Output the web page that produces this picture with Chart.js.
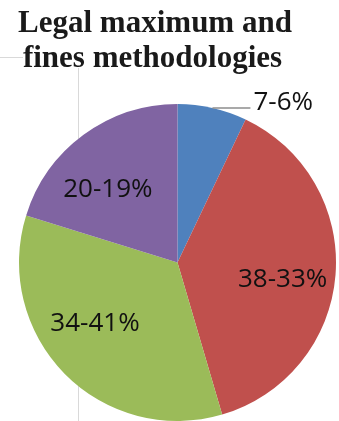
<!DOCTYPE html>
<html>
<head>
<meta charset="utf-8">
<title>Legal maximum and fines methodologies</title>
<script src="https://cdn.jsdelivr.net/npm/chart.js@4/dist/chart.umd.min.js"></script>
<style>
  html, body { margin: 0; padding: 0; background: #ffffff; }
  #wrap { width: 339px; height: 421px; position: relative; }
  canvas { display: block; }
</style>
</head>
<body>
<div id="wrap"><canvas id="pie" width="339" height="421"></canvas></div>
<script>
// Slice data
const categories = ['Group A', 'Group B', 'Group C', 'Group D'];
const shares = [7, 38, 34, 20];               // first figure of each label, in %
const secondShares = [6, 33, 41, 19];         // second figure of each label, in %
const sliceLabels = shares.map((v, i) => v + '-' + secondShares[i] + '%');
const titleLines = ['Legal maximum and', 'fines methodologies'];

const sliceColors = ['#4F81BD', '#C0504D', '#9BBB59', '#8064A2'];

// Where each slice label sits: inside labels use an angle shift (deg) from the
// slice middle and a fraction of the radius; the small slice gets a leader line.
const labelPlacement = [
  { outside: true, leader: 38 },
  { shift: 3.5, frac: 0.67 },
  { shift: 9, frac: 0.64 },
  { shift: -6.6, frac: 0.645 }
];

const LABEL_FONT = '26px "Open Sans", "DejaVu Sans", sans-serif';
const CAP = 0.714; // cap-height ratio of the label font

// Thin frame lines of the surrounding text box, drawn behind the pie
const framePlugin = {
  id: 'frame',
  beforeDatasetsDraw(chart) {
    const ctx = chart.ctx;
    ctx.save();
    ctx.strokeStyle = '#d9d9d9';
    ctx.lineWidth = 1;
    ctx.beginPath();
    ctx.moveTo(0, 57.5); ctx.lineTo(23, 57.5);
    ctx.moveTo(78.5, 68); ctx.lineTo(78.5, chart.height);
    ctx.stroke();
    ctx.restore();
  }
};

// Two-line serif heading
const headingPlugin = {
  id: 'heading',
  afterDraw(chart) {
    const ctx = chart.ctx;
    ctx.save();
    ctx.fillStyle = '#1a1a1a';
    ctx.font = 'bold 31px "Liberation Serif", "Times New Roman", serif';
    ctx.textAlign = 'center';
    ctx.textBaseline = 'alphabetic';
    ctx.fillText(titleLines[0], 155, 32);
    ctx.fillText(titleLines[1], 152.5, 67);
    ctx.restore();
  }
};

// Value labels on / beside the slices
const sliceLabelPlugin = {
  id: 'sliceLabels',
  afterDatasetsDraw(chart) {
    const ctx = chart.ctx;
    const meta = chart.getDatasetMeta(0);
    ctx.save();
    ctx.font = LABEL_FONT;
    ctx.fillStyle = '#111111';
    const capH = 26 * CAP;
    meta.data.forEach((arc, i) => {
      const p = arc.getProps(['x', 'y', 'startAngle', 'endAngle', 'outerRadius'], true);
      const mid = (p.startAngle + p.endAngle) / 2;
      const place = labelPlacement[i];
      const text = sliceLabels[i];
      if (place.outside) {
        const ex = p.x + Math.cos(mid) * p.outerRadius;
        const ey = p.y + Math.sin(mid) * p.outerRadius;
        const lx = ex + place.leader;
        ctx.strokeStyle = '#8c8c8c';
        ctx.lineWidth = 1.5;
        ctx.beginPath();
        ctx.moveTo(ex, ey);
        ctx.lineTo(lx, ey);
        ctx.stroke();
        ctx.textAlign = 'left';
        ctx.textBaseline = 'alphabetic';
        ctx.fillText(text, lx + 3, ey + 2);
      } else {
        const a = mid + place.shift * Math.PI / 180;
        const r = p.outerRadius * place.frac;
        const cx = p.x + Math.cos(a) * r;
        const cy = p.y + Math.sin(a) * r;
        ctx.textAlign = 'center';
        ctx.textBaseline = 'alphabetic';
        ctx.fillText(text, cx, cy + capH / 2);
      }
    });
    ctx.restore();
  }
};

new Chart(document.getElementById('pie'), {
  type: 'pie',
  data: {
    labels: categories,
    datasets: [{
      data: shares,
      backgroundColor: sliceColors,
      borderWidth: 0
    }]
  },
  options: {
    responsive: false,
    animation: false,
    layout: { padding: { left: 19, right: 3, top: 104, bottom: 0 } },
    plugins: {
      legend: { display: false },
      title: { display: false },
      tooltip: { enabled: false }
    }
  },
  plugins: [framePlugin, sliceLabelPlugin, headingPlugin]
});
</script>
</body>
</html>
